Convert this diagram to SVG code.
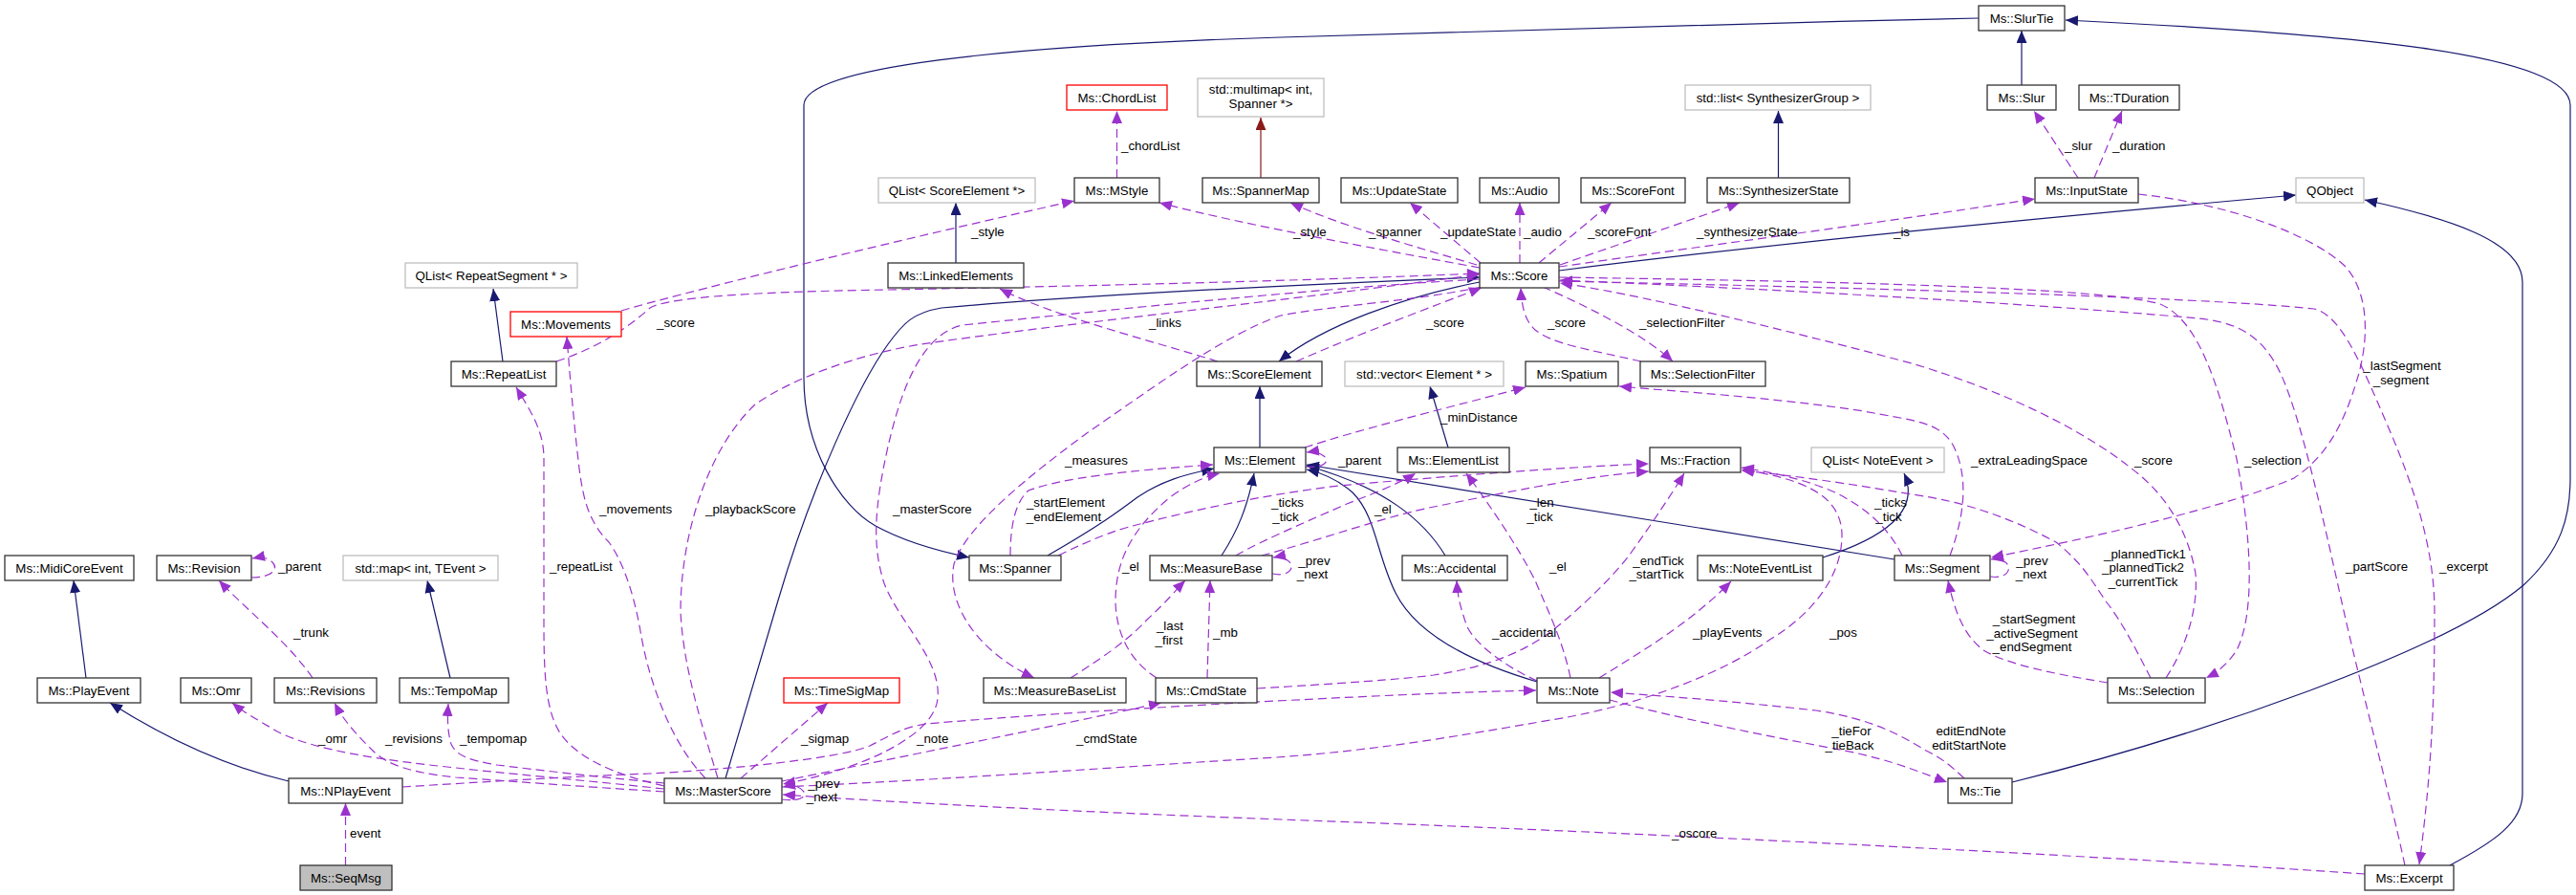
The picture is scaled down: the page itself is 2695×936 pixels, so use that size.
<svg xmlns="http://www.w3.org/2000/svg" width="2695" height="936" viewBox="0 0 2695 936">
<style>
text{font-family:"Liberation Sans",Arial,sans-serif;font-size:13.3px;fill:#000}
.n rect{fill:#fff;stroke:#333;stroke-width:1.3}
.g rect{stroke:#bfbfbf}
.r rect{stroke:#ff0000}
.s rect{fill:#bfbfbf}
.n text{text-anchor:middle}
.e path{fill:none;stroke-width:1.2}
.e .u{stroke:#9a32cd;stroke-dasharray:9,5;marker-end:url(#ap)}
.e .i{stroke:#191970;marker-end:url(#an)}
.e .t{stroke:#8b1a1a;marker-end:url(#ar)}
.m{text-anchor:middle}
</style>
<defs>
<marker id="ap" markerUnits="userSpaceOnUse" markerWidth="14" markerHeight="11" refX="13" refY="5.5" orient="auto"><path d="M0,0 L13,5.5 L0,11 z" fill="#9a32cd"/></marker>
<marker id="an" markerUnits="userSpaceOnUse" markerWidth="14" markerHeight="11" refX="13" refY="5.5" orient="auto"><path d="M0,0 L13,5.5 L0,11 z" fill="#191970"/></marker>
<marker id="ar" markerUnits="userSpaceOnUse" markerWidth="14" markerHeight="11" refX="13" refY="5.5" orient="auto"><path d="M0,0 L13,5.5 L0,11 z" fill="#8b1a1a"/></marker>
</defs>
<rect width="2695" height="936" fill="#fff"/>
<g id="edges" class="e">
<path class="i" d="M2115,89 L2115,32"/>
<path class="i" d="M2070,19 C1800,25 1500,33 1340,39 C1050,48 841,70 841,110 L841,395 C841,470 880,530 916,550 C945,566 985,577 1014,583"/>
<path class="i" d="M2105,818 C2300,770 2560,680 2640,612 C2680,575 2689,540 2689,500 L2689,110 C2689,55 2450,35 2161,21"/>
<path class="i" d="M1631,283 C1850,255 2200,222 2402,204"/>
<path class="i" d="M2563,905 C2610,880 2639,860 2639,830 L2639,295 C2639,252 2560,228 2474,209"/>
<path class="i" d="M1548,295 C1470,310 1385,340 1338,378"/>
<path class="i" d="M759,814 L814,628 C850,505 900,400 929,360 C945,338 955,327 985,322 C1150,307 1400,296 1548,290"/>
<path class="i" d="M1318,468 L1318,404"/>
<path class="i" d="M1000,275 L1000,212"/>
<path class="i" d="M526,378 L516,302"/>
<path class="i" d="M471,709 L447,607"/>
<path class="i" d="M1860.5,186 L1860.5,116"/>
<path class="i" d="M90,709 L77,607"/>
<path class="i" d="M302,817 C230,800 170,770 115,735"/>
<path class="i" d="M1096,581 C1150,550 1170,535 1190,520 C1215,503 1240,496 1270,490"/>
<path class="i" d="M1278,581 C1295,555 1305,530 1312,495"/>
<path class="i" d="M1512,581 C1490,545 1450,510 1367,487"/>
<path class="i" d="M1608,713 C1530,690 1480,660 1460,620 C1440,580 1440,540 1415,515 C1400,502 1385,495 1367,491"/>
<path class="i" d="M1982,585 L1367,486"/>
<path class="i" d="M1907,583 C1970,563 2010,535 1992,495"/>
<path class="i" d="M1515,468 L1496,404"/>
<path class="t" d="M1319,186 L1319,123"/>
<path class="u" d="M1168.5,186 L1168.5,116"/>
<path class="u" d="M2174,186 L2128,116"/>
<path class="u" d="M2191,186 L2220,116"/>
<path class="u" d="M1548,280 C1450,262 1300,235 1213,212"/>
<path class="u" d="M1545,277 C1480,258 1400,235 1350,212"/>
<path class="u" d="M1549,275 L1475,212"/>
<path class="u" d="M1590,275 L1590,212"/>
<path class="u" d="M1610,275 L1686,212"/>
<path class="u" d="M1632,277 L1820,212"/>
<path class="u" d="M1631,279 C1800,255 2000,228 2129,208"/>
<path class="u" d="M650,325 C700,310 900,260 1124,210"/>
<path class="u" d="M582,378 C630,362 660,340 680,322 C700,310 800,305 929,303 C1200,298 1400,292 1548,286"/>
<path class="u" d="M1274,378 C1200,355 1100,330 1046,302"/>
<path class="u" d="M1356,378 C1420,350 1500,320 1550,301"/>
<path class="u" d="M1614,300 C1660,320 1720,350 1750,378"/>
<path class="u" d="M1717,378 C1660,365 1625,360 1606,345 C1595,335 1592,320 1591,301"/>
<path class="u" d="M1550,300 C1480,315 1390,320 1340,330 C1280,350 1200,410 1137,453 C1080,495 1010,550 998,590 C990,630 1020,680 1082,709"/>
<path class="u" d="M1548,292 C1400,300 1200,320 1007,340 C960,350 940,420 929,467 C915,530 912,570 925,610 C940,650 985,690 981,730 C978,770 900,805 819,820"/>
<path class="u" d="M751,814 C735,760 715,700 712,640 C712,560 740,470 790,423 C830,395 900,370 964,360 C1100,340 1300,320 1548,287"/>
<path class="u" d="M738,814 C705,780 680,720 670,660 C662,615 650,585 637,567 C615,545 610,520 606,490 C600,440 596,390 593,352"/>
<path class="u" d="M695,822 C640,810 600,790 585,765 C570,740 569,700 569,650 L569,480 C569,450 555,430 540,405"/>
<path class="u" d="M775,814 L866,735"/>
<path class="u" d="M818,817 C950,790 1100,760 1215,735"/>
<path class="u" d="M818,836 C838,839 845,832 840,827 C836,822 829,821 819,823"/>
<path class="u" d="M2474,914 C2200,895 1700,870 1340,857 C1100,848 900,837 819,831"/>
<path class="u" d="M818,823 C1000,815 1200,800 1320,793 C1450,785 1550,765 1640,750 C1720,735 1800,705 1850,670 C1900,640 1927,600 1927,560 C1927,515 1880,500 1822,491"/>
<path class="u" d="M421,823 C500,818 600,812 680,809 C760,805 880,793 910,780 C930,770 945,760 970,757 C1100,745 1450,725 1607,722"/>
<path class="u" d="M327,709 C300,670 260,640 229,607"/>
<path class="u" d="M263,604 C285,604 292,595 285,588 C280,583 274,582 264,584"/>
<path class="u" d="M695,825 C600,815 520,808 477,803 C400,795 330,785 290,765 C270,753 255,745 243,735"/>
<path class="u" d="M695,828 C600,822 520,816 477,813 C430,808 405,800 390,785 C375,770 360,755 350,735"/>
<path class="u" d="M695,819 C620,812 560,805 520,800 C490,795 477,790 472,778 C468,765 468,750 469,736"/>
<path class="u" d="M361.5,905 L361.5,840"/>
<path class="u" d="M1057,581 C1057,550 1062,525 1076,513 C1110,500 1180,492 1269,486"/>
<path class="u" d="M1107,581 C1140,565 1165,555 1185,550 C1250,533 1320,518 1400,508 C1550,495 1650,488 1725,485"/>
<path class="u" d="M1320,581 C1380,565 1450,540 1500,530 C1600,510 1660,498 1725,493"/>
<path class="u" d="M1293,581 C1320,565 1380,540 1409,527 C1440,515 1465,505 1481,495"/>
<path class="u" d="M1210,709 C1180,690 1168,660 1167,630 C1167,590 1180,557 1224,520 C1245,505 1262,498 1276,495"/>
<path class="u" d="M1643,709 C1635,670 1620,640 1606,607 C1590,575 1560,530 1534,495"/>
<path class="u" d="M1608,712 C1570,695 1540,670 1534,653 C1528,635 1525,625 1524,607"/>
<path class="u" d="M1673,709 C1720,680 1770,650 1811,608"/>
<path class="u" d="M1315,720 C1400,715 1470,710 1500,706 C1560,697 1600,680 1632,653 C1660,630 1690,600 1705,580 C1730,545 1750,515 1762,495"/>
<path class="u" d="M1684,732 C1750,750 1850,770 1930,785 C1980,795 2010,808 2037,818"/>
<path class="u" d="M2055,814 C2040,800 2030,792 2015,785 C1990,770 1960,752 1900,743 C1800,732 1740,728 1685,724"/>
<path class="u" d="M1365,468 C1420,450 1500,430 1596,405"/>
<path class="u" d="M2040,581 C2055,540 2060,500 2044,467 C2030,440 2000,440 1950,430 C1850,415 1760,410 1694,404"/>
<path class="u" d="M1366,488 C1385,490 1392,482 1385,477 C1380,473 1374,472 1367,473"/>
<path class="u" d="M1331,600 C1350,604 1356,592 1347,586 C1342,583 1337,582 1332,583"/>
<path class="u" d="M2082,603 C2100,606 2106,594 2098,588 C2093,585 2088,584 2083,585"/>
<path class="u" d="M1120,709 C1150,690 1180,670 1200,648 C1220,630 1232,615 1240,607"/>
<path class="u" d="M1263,709 L1266,607"/>
<path class="u" d="M1990,581 C1975,550 1950,530 1920,515 C1890,502 1860,495 1822,489"/>
<path class="u" d="M2250,709 C2235,680 2220,650 2204,630 C2190,610 2180,590 2151,567 C2110,545 2060,525 2000,517 C1930,505 1880,498 1822,492"/>
<path class="u" d="M2205,714 C2150,705 2100,695 2075,680 C2055,665 2045,640 2038,607"/>
<path class="u" d="M1631,290 C1900,294 2200,300 2260,318 C2300,335 2320,400 2340,480 C2355,560 2360,640 2340,680 C2330,695 2320,703 2308,709"/>
<path class="u" d="M2266,709 C2285,680 2300,640 2297,600 C2290,560 2270,520 2230,490 C2180,450 2100,410 2000,380 C1850,340 1700,305 1632,296"/>
<path class="u" d="M2516,905 C2500,830 2470,720 2450,630 C2430,540 2410,450 2390,400 C2370,350 2340,337 2300,333 C2100,315 1800,300 1632,293"/>
<path class="u" d="M1631,294 C1900,300 2300,310 2421,323 C2450,330 2470,380 2500,450 C2530,520 2547,580 2547,640 C2547,720 2545,800 2531,904"/>
<path class="u" d="M2237,203 C2330,213 2420,245 2455,280 C2480,310 2478,360 2465,400 C2450,450 2430,480 2400,500 C2330,530 2200,560 2083,583"/>
</g>
<g id="labels">
<text x="1173" y="157">_chordList</text>
<text x="2160" y="157">_slur</text>
<text x="2210" y="157">_duration</text>
<text x="1353" y="247">_style</text>
<text x="1432" y="247">_spanner</text>
<text x="1507" y="247">_updateState</text>
<text x="1594" y="247">_audio</text>
<text x="1661" y="247">_scoreFont</text>
<text x="1775" y="247">_synthesizerState</text>
<text x="1981" y="247">_is</text>
<text x="1016" y="247">_style</text>
<text x="687" y="342">_score</text>
<text x="1202" y="342">_links</text>
<text x="1492" y="342">_score</text>
<text x="1619" y="342">_score</text>
<text x="1715" y="342">_selectionFilter</text>
<text x="1507" y="441">_minDistance</text>
<text x="1114" y="486">_measures</text>
<text x="1400" y="486">_parent</text>
<text x="2062" y="486">_extraLeadingSpace</text>
<text x="2233" y="486">_score</text>
<text x="2348" y="486">_selection</text>
<text class="m" x="2513" y="387">_lastSegment</text>
<text class="m" x="2512" y="402">_segment</text>
<text class="m" x="1115" y="530">_startElement</text>
<text class="m" x="1113" y="545">_endElement</text>
<text class="m" x="1347" y="530">_ticks</text>
<text class="m" x="1345" y="545">_tick</text>
<text class="m" x="1613" y="530">_len</text>
<text class="m" x="1611" y="545">_tick</text>
<text class="m" x="1978" y="530">_ticks</text>
<text class="m" x="1976" y="545">_tick</text>
<text x="1438" y="537">_el</text>
<text x="934" y="537">_masterScore</text>
<text x="738" y="537">_playbackScore</text>
<text x="627" y="537">_movements</text>
<text x="291" y="597">_parent</text>
<text x="575" y="597">_repeatList</text>
<text x="1174" y="597">_el</text>
<text x="1621" y="597">_el</text>
<text x="2454" y="597">_partScore</text>
<text x="2552" y="597">_excerpt</text>
<text class="m" x="1375" y="591">_prev</text>
<text class="m" x="1373" y="605">_next</text>
<text class="m" x="1735" y="591">_endTick</text>
<text class="m" x="1733" y="605">_startTick</text>
<text class="m" x="2126" y="591">_prev</text>
<text class="m" x="2125" y="605">_next</text>
<text class="m" x="2244" y="584">_plannedTick1</text>
<text class="m" x="2242" y="598">_plannedTick2</text>
<text class="m" x="2242" y="613">_currentTick</text>
<text x="307" y="666">_trunk</text>
<text x="1561" y="666">_accidental</text>
<text x="1771" y="666">_playEvents</text>
<text x="1914" y="666">_pos</text>
<text x="1269" y="666">_mb</text>
<text class="m" x="1224" y="659">_last</text>
<text class="m" x="1223" y="674">_first</text>
<text class="m" x="2128" y="652">_startSegment</text>
<text class="m" x="2126" y="667">_activeSegment</text>
<text class="m" x="2126" y="681">_endSegment</text>
<text x="333" y="777">_omr</text>
<text x="403" y="777">_revisions</text>
<text x="481" y="777">_tempomap</text>
<text x="838" y="777">_sigmap</text>
<text x="959" y="777">_note</text>
<text x="1126" y="777">_cmdState</text>
<text class="m" x="1937" y="769">_tieFor</text>
<text class="m" x="1935" y="784">_tieBack</text>
<text class="m" x="2062" y="769">editEndNote</text>
<text class="m" x="2060" y="784">editStartNote</text>
<text class="m" x="862" y="824">_prev</text>
<text class="m" x="860" y="838">_next</text>
<text x="366" y="876">event</text>
<text x="1749" y="876">_oscore</text>
</g>
<g id="n_slurtie" class="n"><rect x="2070" y="6" width="90" height="26"/><text x="2115" y="23.7">Ms::SlurTie</text></g>
<g id="n_chordlist" class="n r"><rect x="1116" y="89" width="105" height="26"/><text x="1168.5" y="106.7">Ms::ChordList</text></g>
<g id="n_multimap" class="n g"><rect x="1253" y="82" width="132" height="40"/><text x="1319" y="98">std::multimap&lt; int,</text><text x="1319" y="113">Spanner *&gt;</text></g>
<g id="n_stdlist" class="n g"><rect x="1763" y="89" width="194" height="26"/><text x="1860" y="106.7">std::list&lt; SynthesizerGroup &gt;</text></g>
<g id="n_slur" class="n"><rect x="2079" y="89" width="72" height="26"/><text x="2115" y="106.7">Ms::Slur</text></g>
<g id="n_tduration" class="n"><rect x="2175" y="89" width="105" height="26"/><text x="2227.5" y="106.7">Ms::TDuration</text></g>
<g id="n_qlistse" class="n g"><rect x="919" y="186" width="164" height="26"/><text x="1001" y="203.7">QList&lt; ScoreElement *&gt;</text></g>
<g id="n_mstyle" class="n"><rect x="1124" y="186" width="89" height="26"/><text x="1168.5" y="203.7">Ms::MStyle</text></g>
<g id="n_spannermap" class="n"><rect x="1258" y="186" width="122" height="26"/><text x="1319" y="203.7">Ms::SpannerMap</text></g>
<g id="n_updatestate" class="n"><rect x="1403" y="186" width="122" height="26"/><text x="1464" y="203.7">Ms::UpdateState</text></g>
<g id="n_audio" class="n"><rect x="1548" y="186" width="83" height="26"/><text x="1589.5" y="203.7">Ms::Audio</text></g>
<g id="n_scorefont" class="n"><rect x="1654" y="186" width="109" height="26"/><text x="1708.5" y="203.7">Ms::ScoreFont</text></g>
<g id="n_synthstate" class="n"><rect x="1786" y="186" width="149" height="26"/><text x="1860.5" y="203.7">Ms::SynthesizerState</text></g>
<g id="n_inputstate" class="n"><rect x="2129" y="186" width="108" height="26"/><text x="2183" y="203.7">Ms::InputState</text></g>
<g id="n_qobject" class="n g"><rect x="2402" y="186" width="71" height="26"/><text x="2437.5" y="203.7">QObject</text></g>
<g id="n_qlistrs" class="n g"><rect x="424" y="275" width="180" height="26"/><text x="514" y="292.7">QList&lt; RepeatSegment * &gt;</text></g>
<g id="n_linked" class="n"><rect x="929" y="275" width="142" height="26"/><text x="1000" y="292.7">Ms::LinkedElements</text></g>
<g id="n_score" class="n"><rect x="1548" y="275" width="83" height="26"/><text x="1589.5" y="292.7">Ms::Score</text></g>
<g id="n_movements" class="n r"><rect x="534" y="326" width="116" height="26"/><text x="592" y="343.7">Ms::Movements</text></g>
<g id="n_repeatlist" class="n"><rect x="472" y="378" width="110" height="26"/><text x="527" y="395.7">Ms::RepeatList</text></g>
<g id="n_scoreelement" class="n"><rect x="1252" y="378" width="131" height="26"/><text x="1317.5" y="395.7">Ms::ScoreElement</text></g>
<g id="n_stdvector" class="n g"><rect x="1407" y="378" width="166" height="26"/><text x="1490" y="395.7">std::vector&lt; Element * &gt;</text></g>
<g id="n_spatium" class="n"><rect x="1596" y="378" width="97" height="26"/><text x="1644.5" y="395.7">Ms::Spatium</text></g>
<g id="n_selfilter" class="n"><rect x="1716" y="378" width="131" height="26"/><text x="1781.5" y="395.7">Ms::SelectionFilter</text></g>
<g id="n_element" class="n"><rect x="1270" y="468" width="96" height="26"/><text x="1318" y="485.7">Ms::Element</text></g>
<g id="n_elementlist" class="n"><rect x="1462" y="468" width="117" height="26"/><text x="1520.5" y="485.7">Ms::ElementList</text></g>
<g id="n_fraction" class="n"><rect x="1726" y="468" width="95" height="26"/><text x="1773.5" y="485.7">Ms::Fraction</text></g>
<g id="n_qlistne" class="n g"><rect x="1895" y="468" width="139" height="26"/><text x="1964.5" y="485.7">QList&lt; NoteEvent &gt;</text></g>
<g id="n_midicore" class="n"><rect x="5" y="581" width="135" height="26"/><text x="72.5" y="598.7">Ms::MidiCoreEvent</text></g>
<g id="n_revision" class="n"><rect x="164" y="581" width="99" height="26"/><text x="213.5" y="598.7">Ms::Revision</text></g>
<g id="n_stdmap" class="n g"><rect x="359" y="581" width="162" height="26"/><text x="440" y="598.7">std::map&lt; int, TEvent &gt;</text></g>
<g id="n_spanner" class="n"><rect x="1014" y="581" width="96" height="26"/><text x="1062" y="598.7">Ms::Spanner</text></g>
<g id="n_measurebase" class="n"><rect x="1203" y="581" width="128" height="26"/><text x="1267" y="598.7">Ms::MeasureBase</text></g>
<g id="n_accidental" class="n"><rect x="1467" y="581" width="110" height="26"/><text x="1522" y="598.7">Ms::Accidental</text></g>
<g id="n_noteeventlist" class="n"><rect x="1776" y="581" width="131" height="26"/><text x="1841.5" y="598.7">Ms::NoteEventList</text></g>
<g id="n_segment" class="n"><rect x="1982" y="581" width="100" height="26"/><text x="2032" y="598.7">Ms::Segment</text></g>
<g id="n_playevent" class="n"><rect x="39" y="709" width="108" height="26"/><text x="93" y="726.7">Ms::PlayEvent</text></g>
<g id="n_omr" class="n"><rect x="189" y="709" width="74" height="26"/><text x="226" y="726.7">Ms::Omr</text></g>
<g id="n_revisions" class="n"><rect x="287" y="709" width="107" height="26"/><text x="340.5" y="726.7">Ms::Revisions</text></g>
<g id="n_tempomap" class="n"><rect x="418" y="709" width="114" height="26"/><text x="475" y="726.7">Ms::TempoMap</text></g>
<g id="n_timesigmap" class="n r"><rect x="820" y="709" width="121" height="26"/><text x="880.5" y="726.7">Ms::TimeSigMap</text></g>
<g id="n_mbl" class="n"><rect x="1029" y="709" width="149" height="26"/><text x="1103.5" y="726.7">Ms::MeasureBaseList</text></g>
<g id="n_cmdstate" class="n"><rect x="1209" y="709" width="106" height="26"/><text x="1262" y="726.7">Ms::CmdState</text></g>
<g id="n_note" class="n"><rect x="1608" y="709" width="76" height="26"/><text x="1646" y="726.7">Ms::Note</text></g>
<g id="n_selection" class="n"><rect x="2205" y="709" width="102" height="26"/><text x="2256" y="726.7">Ms::Selection</text></g>
<g id="n_nplayevent" class="n"><rect x="302" y="814" width="119" height="26"/><text x="361.5" y="831.7">Ms::NPlayEvent</text></g>
<g id="n_masterscore" class="n"><rect x="695" y="814" width="123" height="26"/><text x="756.5" y="831.7">Ms::MasterScore</text></g>
<g id="n_tie" class="n"><rect x="2038" y="814" width="67" height="26"/><text x="2071.5" y="831.7">Ms::Tie</text></g>
<g id="n_seqmsg" class="n s"><rect x="314" y="905" width="96" height="26"/><text x="362" y="922.7">Ms::SeqMsg</text></g>
<g id="n_excerpt" class="n"><rect x="2474" y="905" width="93" height="26"/><text x="2520.5" y="922.7">Ms::Excerpt</text></g>
</svg>
